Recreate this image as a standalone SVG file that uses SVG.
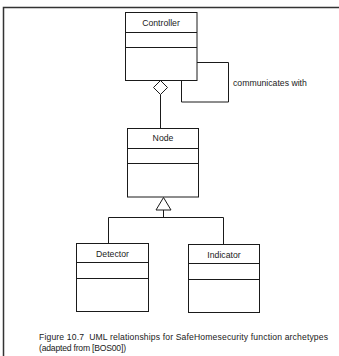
<svg xmlns="http://www.w3.org/2000/svg" width="339" height="356" viewBox="0 0 339 356">
<style>
.box{fill:#fff;stroke:#1a1a1a;stroke-width:1}
.ln{fill:none;stroke:#1a1a1a;stroke-width:1}
.t{font-family:"Liberation Sans",Arial,sans-serif;font-size:8.7px;fill:#1a1a1a}
.c{text-anchor:middle}
.cap{font-family:"Liberation Sans",Arial,sans-serif;font-size:8.6px;fill:#1a1a1a}
</style>
<rect width="339" height="356" fill="#fff"/>
<g id="frame">
<path d="M3.5 356V7.5H339" fill="none" stroke="#333" stroke-width="1.5"/>
</g>
<g id="connectors">
<path class="ln" d="M197 62.5H228.5V102H181.5V80.5"/>
<path class="ln" d="M160.5 94.5V128.5"/>
<path class="box" d="M160.5 80.5L167.5 87.5L160.5 94.5L153.5 87.5Z"/>
<path class="ln" d="M163.5 210V217.5M108.5 217.5H223.5M108.5 217.5V243.5M223.5 217.5V244.5"/>
<path class="box" d="M163.5 197.5L171 210H156Z"/>
<text class="t" x="233" y="85.5">communicates with</text>
</g>
<g id="controller">
<rect class="box" x="125.5" y="12.5" width="71.5" height="68"/>
<path class="ln" d="M125.5 32.5H197M125.5 47.5H197"/>
<text class="t c" x="161" y="25.5">Controller</text>
</g>
<g id="node">
<rect class="box" x="127.5" y="128.5" width="71" height="68.5"/>
<path class="ln" d="M127.5 148.5H198.5M127.5 163.5H198.5"/>
<text class="t c" x="163" y="141">Node</text>
</g>
<g id="detector">
<rect class="box" x="76.5" y="243.5" width="72" height="68"/>
<path class="ln" d="M76.5 262.5H148.5M76.5 278.5H148.5"/>
<text class="t c" x="112.5" y="257">Detector</text>
</g>
<g id="indicator">
<rect class="box" x="188.5" y="244.5" width="71" height="68"/>
<path class="ln" d="M188.5 263.5H259.5M188.5 279.5H259.5"/>
<text class="t c" x="224" y="257.5">Indicator</text>
</g>
<g id="caption">
<text class="cap" x="39" y="340" xml:space="preserve" textLength="289" lengthAdjust="spacing">Figure 10.7  UML relationships for SafeHomesecurity function archetypes</text>
<text class="cap" x="39" y="351" textLength="87" lengthAdjust="spacing">(adapted from [BOS00])</text>
</g>
</svg>
